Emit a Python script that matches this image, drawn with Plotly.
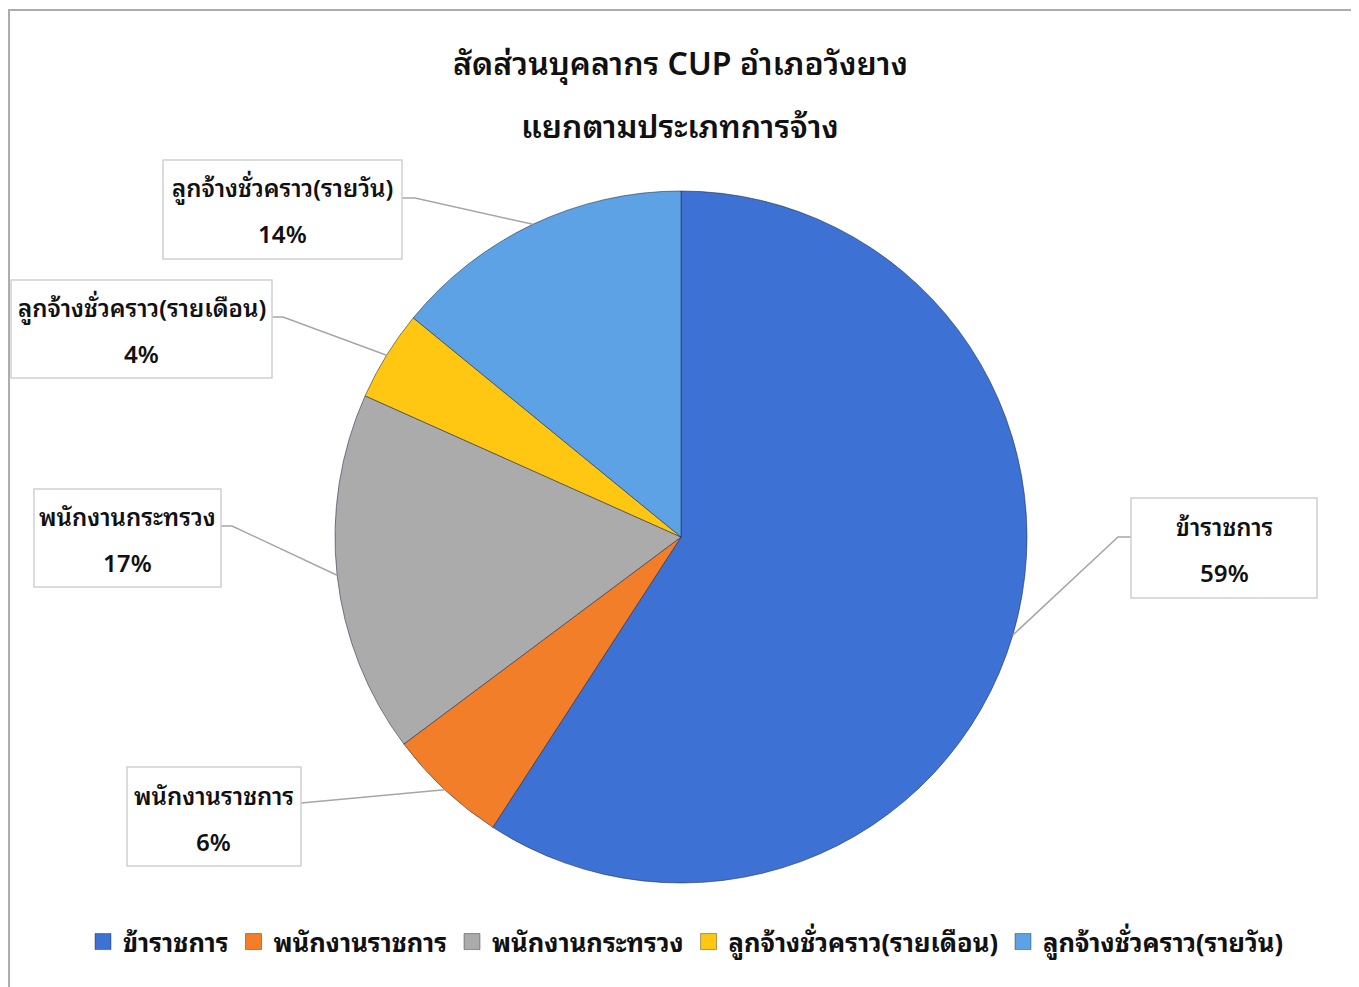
import math
import plotly.graph_objects as go

# ---- data ----
categories = ["ข้าราชการ", "พนักงานราชการ", "พนักงานกระทรวง",
              "ลูกจ้างชั่วคราว(รายเดือน)", "ลูกจ้างชั่วคราว(รายวัน)"]
values = [42, 4, 12, 3, 10]
colors = ["#3D72D4", "#F27E2A", "#ABABAB", "#FFC712", "#5DA2E4"]
title_lines = ["สัดส่วนบุคลากร CUP อำเภอวังยาง", "แยกตามประเภทการจ้าง"]

# ---- layout constants (page pixels) ----
W, H = 1359, 987
OFF = 8  # page body margin
CX, CY, R = 681, 537, 346
# label boxes: (x0, y0, x1, y1), attach y, elbow x, attach side x
boxes = [
    ((1131, 498, 1317, 598), 537, 1118, 1131),
    ((127, 767, 301, 866), 803, 301, 301),
    ((34, 489, 221, 587), 526, 232, 221),
    ((11, 280, 272, 378), 317, 283, 272),
    ((163, 160, 402, 259), 198, 415, 402),
]

FONT = "'Noto Sans Thai Looped', Loma, Garuda, Tahoma, 'Leelawadee UI', 'Noto Sans Thai', 'Noto Sans', sans-serif"


def px(x):
    return (x - OFF) / W


def py(y):
    return 1 - (y - OFF) / H


fig = go.Figure()
fig.add_trace(go.Pie(
    labels=categories,
    values=values,
    sort=False,
    direction="clockwise",
    rotation=0,
    textinfo="none",
    hoverinfo="label+percent",
    marker=dict(colors=colors, line=dict(color="rgba(30,40,70,0.55)", width=1)),
    domain=dict(x=[px(CX - R), px(CX + R)], y=[py(CY + R), py(CY - R)]),
    showlegend=False,
))

# legend entries as square markers
for cat, col in zip(categories, colors):
    fig.add_trace(go.Scatter(
        x=[None], y=[None], mode="markers", name=cat,
        marker=dict(symbol="square", size=18, color=col,
                    line=dict(color="rgba(0,0,0,0.35)", width=1)),
        showlegend=True, hoverinfo="skip",
    ))

total = sum(values)
shapes = []
annotations = []
cum = 0.0
for cat, v, (box, ay, ex, sx) in zip(categories, values, boxes):
    mid = (cum + v / 2) / total * 2 * math.pi
    cum += v
    ex0 = CX + R * math.sin(mid)
    ey0 = CY - R * math.cos(mid)
    shapes.append(dict(type="path", xref="paper", yref="paper",
                       path=f"M {px(ex0)} {py(ey0)} L {px(ex)} {py(ay)} L {px(sx)} {py(ay)}",
                       line=dict(color="#A6A6A6", width=1.5)))
    x0, y0, x1, y1 = box
    shapes.append(dict(type="rect", xref="paper", yref="paper",
                       x0=px(x0), x1=px(x1), y0=py(y1), y1=py(y0),
                       line=dict(color="#D0D0D0", width=1.5), fillcolor="white"))
    cx = (x0 + x1) / 2
    cy = (y0 + y1) / 2
    pct = round(v / total * 100)
    for txt, dy in ((cat, -23), (f"{pct}%", 23)):
        annotations.append(dict(xref="paper", yref="paper", x=px(cx), y=py(cy + dy),
                                text=txt, showarrow=False, xanchor="center", yanchor="middle",
                                font=dict(family=FONT, size=24, color="#111111", weight=600)))

for txt, yy in zip(title_lines, (60, 123)):
    annotations.append(dict(xref="paper", yref="paper", x=px(680), y=py(yy),
                            text=txt, showarrow=False, xanchor="center", yanchor="middle",
                            font=dict(family=FONT, size=32, color="#111111", weight=600)))

# outer chart border
shapes.append(dict(type="rect", xref="paper", yref="paper",
                   x0=px(9), x1=px(1352), y0=py(1000), y1=py(10),
                   line=dict(color="#ADADAD", width=2), fillcolor="rgba(0,0,0,0)", layer="below"))

fig.update_layout(
    width=W, height=H,
    margin=dict(l=0, r=0, t=0, b=0),
    paper_bgcolor="white",
    plot_bgcolor="white",
    xaxis=dict(visible=False),
    yaxis=dict(visible=False),
    shapes=shapes,
    annotations=annotations,
    legend=dict(orientation="h", x=px(686), xanchor="center", y=py(942), yanchor="middle",
                font=dict(family=FONT, size=25.5, color="#111111", weight="bold"),
                itemsizing="trace", traceorder="normal", itemwidth=30),
)

fig.write_html("out.html")
